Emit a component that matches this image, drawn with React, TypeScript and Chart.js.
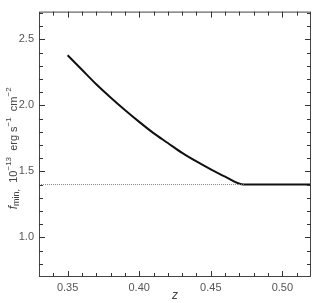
import React, { useEffect, useRef } from "react";
import { Chart, registerables } from "chart.js";

Chart.register(...registerables);

const zValues = [0.35, 0.36, 0.37, 0.38, 0.39, 0.40, 0.41, 0.42, 0.43, 0.44, 0.45, 0.46, 0.473, 0.52];
const fValues = [2.38, 2.27, 2.16, 2.06, 1.965, 1.875, 1.79, 1.715, 1.64, 1.575, 1.515, 1.46, 1.40, 1.40];
const thresholdZ = [0.33, 0.473];
const thresholdF = [1.40, 1.40];
const xTickValues = [0.35, 0.40, 0.45, 0.50];
const yTickValues = [1.0, 1.5, 2.0, 2.5];
const xMinorTicks = [0.34, 0.35, 0.36, 0.37, 0.38, 0.39, 0.40, 0.41, 0.42, 0.43, 0.44, 0.45, 0.46, 0.47, 0.48, 0.49, 0.50, 0.51];
const yMinorTicks = [0.8, 0.9, 1.0, 1.1, 1.2, 1.3, 1.4, 1.5, 1.6, 1.7, 1.8, 1.9, 2.0, 2.1, 2.2, 2.3, 2.4, 2.5, 2.6, 2.7];
const X_MIN = 0.33, X_MAX = 0.52, Y_MIN = 0.70, Y_MAX = 2.71;

const FONT = "'Liberation Sans', Arial, sans-serif";
const AXIS = "#555";

const framePlugin = {
  id: "frame",
  afterDraw(chart: any) {
    const ctx = chart.ctx;
    const a = chart.chartArea;
    const xs = chart.scales.x;
    const ys = chart.scales.y;
    ctx.save();
    ctx.setLineDash([]);
    ctx.strokeStyle = "#444";
    ctx.lineWidth = 1;
    ctx.strokeRect(a.left + 0.5, a.top + 0.5, a.right - a.left - 1, a.bottom - a.top - 1);
    const L = a.left, R = a.right, T = a.top, B = a.bottom;
    ctx.strokeStyle = "#333";
    ctx.lineWidth = 1;
    ctx.beginPath();
    for (const v of xMinorTicks) {
      const px = Math.round(xs.getPixelForValue(v)) + 0.5;
      const len = xTickValues.indexOf(v) >= 0 ? 6 : 4;
      ctx.moveTo(px, B);
      ctx.lineTo(px, B - len);
      ctx.moveTo(px, T);
      ctx.lineTo(px, T + len);
    }
    for (const v of yMinorTicks) {
      const py = Math.round(ys.getPixelForValue(v)) + 0.5;
      const len = yTickValues.indexOf(v) >= 0 ? 6 : 4;
      ctx.moveTo(L, py);
      ctx.lineTo(L + len, py);
      ctx.moveTo(R, py);
      ctx.lineTo(R - len, py);
    }
    ctx.stroke();
    ctx.restore();

    // y-axis title with sub/superscripts
    ctx.save();
    const cy = (a.top + a.bottom) / 2 + 4;
    ctx.translate(14, cy);
    ctx.rotate(-Math.PI / 2);
    ctx.fillStyle = "#444";
    ctx.textBaseline = "middle";
    const parts: [string, string, number][] = [
      ["f", "italic 12px " + FONT, 0],
      ["min,", "9px " + FONT, 3],
      ["  10", "11px " + FONT, 0],
      ["\u221213", "8px " + FONT, -5],
      ["  erg s", "11px " + FONT, 0],
      ["\u22121", "8px " + FONT, -5],
      ["  cm", "11px " + FONT, 0],
      ["\u22122", "8px " + FONT, -5],
    ];
    let total = 0;
    for (const [t, f] of parts) { ctx.font = f; total += ctx.measureText(t).width; }
    let x = -total / 2;
    for (const [t, f, dy] of parts) {
      ctx.font = f;
      ctx.fillText(t, x, dy);
      x += ctx.measureText(t).width;
    }
    ctx.restore();
  },
};

export default function App() {
  const ref = useRef<HTMLCanvasElement>(null);
  useEffect(() => {
    document.body.style.margin = "0";
    const chart = new Chart(ref.current!, {
      type: "line",
      data: {
        datasets: [
          {
            data: thresholdZ.map((z, i) => ({ x: z, y: thresholdF[i] })),
            borderColor: "#888",
            borderWidth: 1,
            borderDash: [1, 1],
            pointRadius: 0,
          },
          {
            data: zValues.map((z, i) => ({ x: z, y: fValues[i] })),
            borderColor: "#111",
            borderWidth: 2,
            pointRadius: 0,
            cubicInterpolationMode: "monotone",
          },
        ],
      },
      options: {
        animation: false,
        responsive: false,
        layout: { padding: { top: 5, right: 8, left: 0, bottom: 0 } },
        plugins: { legend: { display: false }, tooltip: { enabled: false } },
        scales: {
          x: {
            type: "linear",
            min: X_MIN,
            max: X_MAX,
            grid: { display: false, drawTicks: false },
            border: { display: false },
            afterBuildTicks: (s: any) => { s.ticks = xTickValues.map((v) => ({ value: v })); },
            afterFit: (s: any) => { s.height = 26; },
            ticks: {
              padding: 4,
              color: AXIS,
              font: { family: FONT, size: 11 },
              callback: (v: any) => Number(v).toFixed(2),
              maxRotation: 0,
            },
            title: {
              display: true,
              text: "z",
              color: "#444",
              font: { family: FONT, size: 12, style: "italic" },
              padding: { top: 0, bottom: 0 },
            },
          },
          y: {
            type: "linear",
            min: Y_MIN,
            max: Y_MAX,
            grid: { display: false, drawTicks: false },
            border: { display: false },
            afterBuildTicks: (s: any) => { s.ticks = yTickValues.map((v) => ({ value: v })); },
            afterFit: (s: any) => { s.width = 39; },
            ticks: {
              padding: 5,
              color: AXIS,
              font: { family: FONT, size: 11 },
              callback: (v: any) => Number(v).toFixed(1),
            },
          },
        },
      },
      plugins: [framePlugin],
    });
    return () => chart.destroy();
  }, []);
  return (
    <div style={{ width: 319, height: 303 }}>
      <canvas ref={ref} width={319} height={303} style={{ display: "block" }} />
    </div>
  );
}
